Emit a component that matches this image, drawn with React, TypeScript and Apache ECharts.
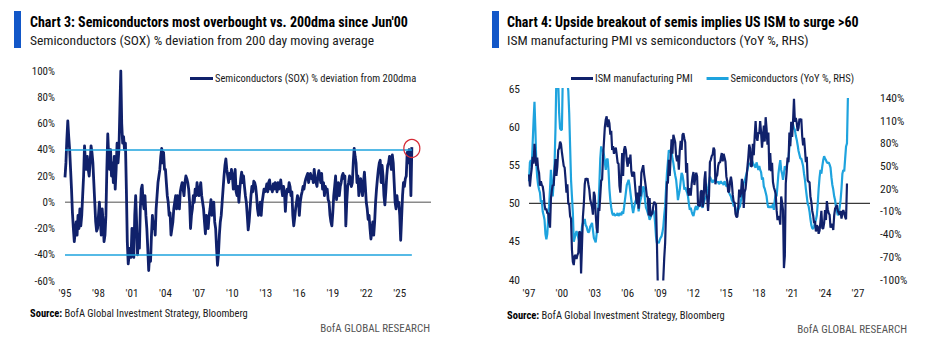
import React, { useEffect, useRef } from "react";
import * as echarts from "echarts";

// ---------- DATA ----------
// Chart 3: SOX % deviation from 200dma, monthly from Jan 1995
const SOX_START = 1995;
const SOX_DEV = [
  19, 30, 48, 62, 50, 40, 25, 10, -8, -20, -30, -22, // 1995
  -15, -25, -10, -20, -5, -18, -10, 5, 20, 43, 30, 25, // 1996
  35, 25, 20, 30, 43, 38, 30, 15, 0, -15, -22, -20, // 1997
  -10, 0, -15, -25, -5, -15, -30, -25, -10, 25, 52, 35, // 1998
  25, 40, 20, 30, 15, 35, 10, 25, 45, 30, 40, 70, // 1999
  100, 60, 45, 50, 40, 45, 10, -30, -47, -40, -35, -42, // 2000
  -20, -38, -42, -10, 5, -15, -40, -25, -35, -5, 10, 13, // 2001
  0, -5, 5, -10, -20, -35, -52, -40, -45, -25, -10, -20, // 2002
  -15, -25, -5, 5, 15, 20, 25, 35, 41, 30, 38, 25, // 2003
  25, 15, 5, 0, -10, -8, -25, -20, -15, -5, 0, 5, // 2004
  -5, 5, 0, -5, 8, 12, 15, 10, 5, 15, 20, 18, // 2005
  15, 10, 0, -20, -10, -5, 5, 0, 10, 5, 15, 8, // 2006
  5, 10, 15, 5, 0, -5, -15, -24, -10, -15, -20, -10, // 2007
  -5, 2, -10, -5, 0, -15, -20, -35, -48, -40, -25, -15, // 2008
  -10, 0, 10, 20, 28, 33, 25, 20, 15, 22, 18, 25, // 2009
  20, 10, 18, 25, 8, 5, 12, 0, 10, 18, 23, 15, // 2010
  20, 12, 5, 0, -10, -21, -15, -5, 5, 12, 8, 16, // 2011
  15, 12, 5, -5, -10, -5, 0, -10, 0, 5, 10, 8, // 2012
  10, 14, 8, 15, 17, 10, 12, 8, 14, 10, 15, 12, // 2013
  8, 15, 10, 12, 17, 10, 5, 12, 8, -7, 5, 10, // 2014
  8, 15, 12, 5, 8, -10, -18, -12, -5, 0, 5, 2, // 2015
  -10, 0, 5, 8, 12, 10, 15, 18, 20, 22, 15, 20, // 2016
  22, 18, 20, 15, 25, 18, 15, 12, 20, 24, 20, 15, // 2017
  22, 10, 15, 5, 12, 8, 10, 2, 0, -10, -15, -18, // 2018
  -8, 5, 12, 20, 2, 8, 15, 5, 12, 15, 20, 22, // 2019
  18, 20, -18, 0, 12, 15, 20, 18, 12, 15, 30, 41, // 2020
  35, 30, 15, 20, 5, 12, 18, 10, 5, 15, 23, 12, // 2021
  0, -5, -13, -10, -20, -28, -22, -15, -25, -15, 0, 10, // 2022
  18, 25, 30, 32, 15, 28, 20, 5, -2, 8, 20, 28, // 2023
  30, 35, 30, 25, 36, 30, 15, 0, -5, 5, -3, 0, // 2024
  -10, -29, -12, 5, 15, 12, 18, 20, 38, 30, 40, 32, // 2025
  5, 42, // 2026
];
const SOX_BANDS = [40, -40];

// Chart 4: monthly from Jan 1997
const ISM_START = 1997;
const ISM_PMI = [
  53.8, 52.2, 53.6, 54.6, 56.1, 55.2, 57.8, 56.2, 54.9, 56.0, 54.5, 54.0, // 1997
  52.3, 52.9, 52.4, 52.2, 51.4, 49.8, 49.1, 49.3, 48.7, 48.7, 47.5, 46.8, // 1998
  50.6, 51.7, 52.4, 52.3, 54.3, 55.8, 53.6, 54.8, 57.0, 57.2, 58.1, 57.8, // 1999
  56.7, 55.8, 54.9, 54.7, 53.2, 51.4, 52.5, 49.9, 49.9, 48.3, 48.0, 43.9, // 2000
  42.3, 41.9, 43.1, 43.2, 42.7, 43.2, 43.5, 46.3, 46.2, 40.8, 44.5, 48.2, // 2001
  49.9, 52.5, 53.3, 53.0, 53.3, 52.5, 51.8, 50.5, 50.0, 49.5, 48.5, 51.5, // 2002
  51.0, 48.6, 46.8, 46.1, 49.4, 49.0, 51.0, 53.0, 53.1, 56.0, 58.0, 60.0, // 2003
  61.0, 61.4, 60.0, 61.0, 60.5, 59.0, 59.5, 57.0, 57.5, 56.5, 57.0, 57.3, // 2004
  56.4, 55.3, 55.2, 52.3, 51.4, 53.8, 56.6, 53.6, 57.0, 57.5, 57.0, 55.6, // 2005
  54.8, 56.0, 55.2, 56.4, 54.2, 53.5, 54.0, 54.1, 52.5, 51.0, 49.9, 51.4, // 2006
  49.3, 52.3, 50.9, 54.0, 54.5, 55.0, 53.8, 52.9, 52.0, 50.9, 50.8, 48.4, // 2007
  50.7, 48.3, 48.6, 48.6, 49.6, 50.2, 50.0, 49.9, 44.8, 38.9, 36.2, 33.1, // 2008
  35.6, 35.8, 36.3, 40.1, 42.8, 44.8, 48.9, 52.9, 52.6, 55.7, 53.6, 55.9, // 2009
  58.4, 56.5, 59.0, 58.5, 58.0, 56.2, 55.5, 56.3, 54.4, 56.9, 58.2, 57.0, // 2010
  59.0, 59.2, 58.5, 58.0, 54.0, 55.3, 51.5, 51.0, 52.0, 51.0, 52.5, 53.5, // 2011
  54.1, 52.4, 53.4, 54.0, 53.5, 49.7, 49.8, 49.6, 51.5, 51.7, 49.5, 50.2, // 2012
  53.1, 54.2, 51.3, 50.7, 49.0, 50.9, 55.4, 55.7, 56.2, 56.4, 57.3, 57.0, // 2013
  52.5, 53.5, 53.7, 54.9, 55.4, 55.3, 56.0, 56.6, 55.5, 56.5, 56.0, 55.5, // 2014
  53.5, 52.9, 51.5, 51.5, 52.8, 53.5, 52.7, 51.1, 50.2, 50.1, 48.6, 48.2, // 2015
  48.2, 49.5, 51.8, 50.8, 51.3, 53.2, 52.6, 49.4, 51.5, 51.9, 53.2, 54.7, // 2016
  56.0, 57.7, 57.2, 54.8, 54.9, 57.8, 56.3, 58.8, 60.8, 58.7, 58.2, 59.3, // 2017
  59.1, 60.8, 59.3, 57.3, 58.7, 60.2, 58.1, 61.3, 59.8, 57.7, 59.3, 54.3, // 2018
  56.6, 54.2, 55.3, 52.8, 52.1, 51.7, 51.2, 49.1, 47.8, 48.3, 48.1, 47.2, // 2019
  50.9, 50.1, 49.1, 41.5, 43.1, 52.6, 54.2, 56.0, 55.4, 59.3, 57.5, 60.7, // 2020
  58.7, 60.8, 63.7, 60.7, 61.2, 60.6, 59.5, 59.9, 61.1, 60.8, 61.1, 58.8, // 2021
  57.6, 58.6, 57.1, 55.4, 56.1, 53.0, 52.8, 52.8, 50.9, 50.2, 49.0, 48.4, // 2022
  47.4, 47.7, 46.3, 47.1, 46.9, 46.0, 46.4, 47.6, 49.0, 46.7, 46.7, 47.4, // 2023
  49.1, 47.8, 50.3, 49.2, 48.7, 48.5, 46.8, 47.2, 47.2, 46.5, 48.4, 49.3, // 2024
  49.5, 49.8, 49.0, 48.7, 48.5, 49.0, 48.0, 48.7, 49.1, 48.7, 48.2, 47.9, // 2025
  52.6, // 2026
];
const SEMIS_YOY = [
  30, 55, 58, 50, 80, 110, 135, 98, 54, 35, 25, 19, // 1997
  15, 2, 5, -10, -15, -21, -40, -47, -40, -20, -3, 20, // 1998
  45, 25, 10, 30, 54, 100, 170, 180, 160, 120, 100, 98, // 1999
  98, 170, 200, 190, 170, 160, 160, 150, 120, 76, 32, 10, // 2000
  -12, -50, -45, -40, -36, -40, -45, -50, -56, -45, -30, -25, // 2001
  -25, -20, -28, -30, -35, -38, -36, -30, -28, -25, -35, -45, // 2002
  -48, -51, -40, -20, -3, 25, 60, 76, 70, 72, 65, 55, // 2003
  45, 58, 60, 45, 20, 5, -5, -12, -15, -12, -16, -14, // 2004
  -15, -12, -16, -14, -12, -15, -10, -13, -5, 5, 15, 25, // 2005
  28, 32, 25, 15, 5, -5, -12, -5, 1, 5, 10, 5, // 2006
  -10, 0, 5, 10, 18, 23, 20, 5, -5, -8, -12, -15, // 2007
  -21, -18, -15, -10, -8, -12, -25, -43, -52, -50, -52, -48, // 2008
  -45, -43, -38, -30, -15, -3, 20, 41, 55, 71, 70, 68, // 2009
  70, 60, 54, 45, 38, 32, 20, 5, 12, 19, 30, 41, // 2010
  38, 30, 19, 22, 18, 15, 10, 0, -8, -5, -10, -14, // 2011
  -16, -10, -5, -3, -8, -5, 0, -2, 2, -3, -5, 0, // 2012
  5, 8, 10, 14, 20, 28, 36, 33, 30, 28, 32, 30, // 2013
  32, 30, 28, 30, 26, 28, 30, 27, 28, 25, 30, 28, // 2014
  23, 25, 20, 15, 12, 10, 5, 3, -3, -2, -5, -10, // 2015
  -12, -8, -5, -3, 5, 10, 20, 28, 30, 35, 40, 45, // 2016
  50, 54, 52, 56, 58, 54, 52, 50, 48, 55, 50, 45, // 2017
  50, 45, 42, 32, 35, 23, 20, 15, 10, 0, -5, -3, // 2018
  -5, -3, -5, 0, -8, 5, 14, 10, 25, 40, 50, 58, // 2019
  45, 40, 32, 40, 50, 45, 50, 55, 60, 75, 85, 100, // 2020
  107, 105, 100, 98, 90, 85, 78, 70, 65, 60, 60, 55, // 2021
  50, 40, 32, 20, 10, 0, -3, -10, -20, -28, -32, -33, // 2022
  -30, -25, -21, -15, 0, 20, 35, 45, 40, 50, 58, 63, // 2023
  60, 58, 55, 54, 55, 52, 48, 35, 25, 19, 10, 5, // 2024
  -5, -10, -15, -12, -5, 5, 20, 40, 45, 43, 60, 76, // 2025
  80, 140, // 2026
];
const ISM_REF = 50;

// ---------- STYLE ----------
const FONT = "'Liberation Sans Narrow', 'Arial Narrow', 'Roboto Condensed', 'Liberation Sans', sans-serif";
const NAVY = "#10216b";
const SKY = "#1ea3de";
const BAR_BLUE = "#1257c8";

const monthly = (start: number, vals: number[]) => vals.map((v, i) => [start + i / 12, v]);
const shortYear = (y: number) => "'" + String(Math.round(y) % 100).padStart(2, "0");

export default function App() {
  const ref = useRef<HTMLDivElement>(null);
  useEffect(() => {
    if (!ref.current) return;
    const chart = echarts.init(ref.current, undefined, { renderer: "svg" });

    const soxPts = monthly(SOX_START, SOX_DEV);
    const soxLast = soxPts[soxPts.length - 1];
    const leftMax = 2027.8;
    // right chart x: years since ISM_START
    const ismPts = ISM_PMI.map((v, i) => [i / 12, v]);
    const semiPts = SEMIS_YOY.map((v, i) => [i / 12, v]);
    const rightMax = 31.1;

    const axisLabel = { fontFamily: FONT, fontSize: 11, color: "#1a1a1a" };

    const option: any = {
      animation: false,
      textStyle: { fontFamily: FONT },
      grid: [
        { left: 65, right: 926 - 431, top: 71, bottom: 352 - 281 },
        { left: 529, right: 926 - 870, top: 89, bottom: 352 - 279.5 },
      ],
      legend: [
        {
          data: ["Semiconductors (SOX) % deviation from 200dma"],
          left: 185, top: 68, itemWidth: 23, itemHeight: 3, icon: "rect",
          textStyle: { fontFamily: FONT, fontSize: 10.5, color: "#1a1a1a", padding: [0, 0, 0, -3] },
        },
        {
          data: ["ISM manufacturing PMI", "Semiconductors (YoY %, RHS)"],
          left: 566, top: 68, itemWidth: 22, itemHeight: 3, icon: "rect", itemGap: 14,
          textStyle: { fontFamily: FONT, fontSize: 10.5, color: "#1a1a1a", padding: [0, 0, 0, -3] },
        },
      ],
      xAxis: [
        {
          type: "value", gridIndex: 0, min: SOX_START, max: leftMax, interval: 3,
          axisLine: { show: false }, axisTick: { show: false }, splitLine: { show: false },
          axisLabel: { ...axisLabel, margin: 7, showMaxLabel: false, formatter: (v: number) => shortYear(v) },
        },
        {
          type: "value", gridIndex: 1, min: 0, max: rightMax, interval: 3,
          axisLine: { show: false }, axisTick: { show: false }, splitLine: { show: false },
          axisLabel: { ...axisLabel, margin: 8, showMaxLabel: false, formatter: (v: number) => shortYear(ISM_START + v) },
        },
      ],
      yAxis: [
        {
          type: "value", gridIndex: 0, min: -60, max: 100, interval: 20,
          axisLine: { show: false }, axisTick: { show: false }, splitLine: { show: false },
          axisLabel: { ...axisLabel, margin: 10, formatter: (v: number) => v + "%" },
        },
        {
          type: "value", gridIndex: 1, min: 40, max: 65, interval: 5,
          axisLine: { show: false }, axisTick: { show: false }, splitLine: { show: false },
          axisLabel: { ...axisLabel, fontSize: 11.5, margin: 9 },
        },
        {
          type: "value", gridIndex: 1, position: "right", min: -100, max: 152, interval: 30,
          axisLine: { show: false }, axisTick: { show: false }, splitLine: { show: false },
          axisLabel: { ...axisLabel, fontSize: 11.5, margin: 10, showMaxLabel: false, formatter: (v: number) => v + "%" },
        },
      ],
      series: [
        {
          name: "zero", type: "line", xAxisIndex: 0, yAxisIndex: 0, silent: true, z: 1,
          data: [[SOX_START, 0], [leftMax, 0]], symbol: "none",
          lineStyle: { color: "#8a8a8a", width: 1.5 },
        },
        {
          name: "Semiconductors (SOX) % deviation from 200dma", type: "line",
          xAxisIndex: 0, yAxisIndex: 0, z: 3, data: soxPts, symbol: "none",
          lineStyle: { color: NAVY, width: 2.8, join: "round" }, itemStyle: { color: NAVY },
          markLine: {
            silent: true, symbol: "none", label: { show: false },
            lineStyle: { color: SKY, width: 1.5, type: "solid" },
            data: SOX_BANDS.map((b) => [{ coord: [SOX_START, b] }, { coord: [soxLast[0], b] }]),
          },
          markPoint: {
            silent: true, symbol: "circle", symbolSize: [16, 18], label: { show: false },
            itemStyle: { color: "rgba(0,0,0,0)", borderColor: "#d52b36", borderWidth: 1.3 },
            data: [{ coord: [soxLast[0], soxLast[1] - 1] }],
          },
        },
        {
          name: "ref50", type: "line", xAxisIndex: 1, yAxisIndex: 1, silent: true, z: 1,
          data: [[0, ISM_REF], [rightMax, ISM_REF]], symbol: "none",
          lineStyle: { color: "#3a3a3a", width: 1.3 },
        },
        {
          name: "Semiconductors (YoY %, RHS)", type: "line", xAxisIndex: 1, yAxisIndex: 2, z: 2,
          data: semiPts, symbol: "none", lineStyle: { color: SKY, width: 2.2 }, itemStyle: { color: SKY },
        },
        {
          name: "ISM manufacturing PMI", type: "line", xAxisIndex: 1, yAxisIndex: 1, z: 3,
          data: ismPts, symbol: "none", lineStyle: { color: NAVY, width: 2.2 }, itemStyle: { color: NAVY },
        },
      ],
      graphic: [
        { type: "rect", shape: { x: 14, y: 11, width: 7, height: 37 }, style: { fill: BAR_BLUE } },
        { type: "rect", shape: { x: 492, y: 11, width: 7, height: 37 }, style: { fill: BAR_BLUE } },
        {
          type: "text", x: 30, y: 22,
          style: { text: "Chart 3: Semiconductors most overbought vs. 200dma since Jun'00", fontFamily: FONT, fontSize: 14, fontWeight: "bold", fill: "#000", verticalAlign: "middle" },
        },
        {
          type: "text", x: 30, y: 40,
          style: { text: "Semiconductors (SOX) % deviation from 200 day moving average", fontFamily: FONT, fontSize: 13.5, fill: "#1a1a1a", verticalAlign: "middle" },
        },
        {
          type: "text", x: 507, y: 22,
          style: { text: "Chart 4: Upside breakout of semis implies US ISM to surge >60", fontFamily: FONT, fontSize: 14, fontWeight: "bold", fill: "#000", verticalAlign: "middle" },
        },
        {
          type: "text", x: 507, y: 40,
          style: { text: "ISM manufacturing PMI vs semiconductors (YoY %, RHS)", fontFamily: FONT, fontSize: 13.5, fill: "#1a1a1a", verticalAlign: "middle" },
        },
        {
          type: "text", x: 30, y: 313,
          style: { text: "{b|Source:} BofA Global Investment Strategy, Bloomberg", fontFamily: FONT, fontSize: 10.5, fill: "#1a1a1a", verticalAlign: "middle", rich: { b: { fontFamily: FONT, fontSize: 10.5, fontWeight: "bold", fill: "#000" } } },
        },
        {
          type: "text", x: 507, y: 315,
          style: { text: "{b|Source:} BofA Global Investment Strategy, Bloomberg", fontFamily: FONT, fontSize: 10.5, fill: "#1a1a1a", verticalAlign: "middle", rich: { b: { fontFamily: FONT, fontSize: 10.5, fontWeight: "bold", fill: "#000" } } },
        },
        {
          type: "text", x: 430, y: 328,
          style: { text: "BofA GLOBAL RESEARCH", fontFamily: FONT, fontSize: 11, fill: "#555", align: "right", verticalAlign: "middle" },
        },
        {
          type: "text", x: 907, y: 329,
          style: { text: "BofA GLOBAL RESEARCH", fontFamily: FONT, fontSize: 11, fill: "#555", align: "right", verticalAlign: "middle" },
        },
      ],
    };
    chart.setOption(option);
    return () => chart.dispose();
  }, []);

  return (
    <div
      ref={ref}
      style={{ position: "fixed", left: 0, top: 0, width: 926, height: 352, background: "#fff" }}
    />
  );
}
